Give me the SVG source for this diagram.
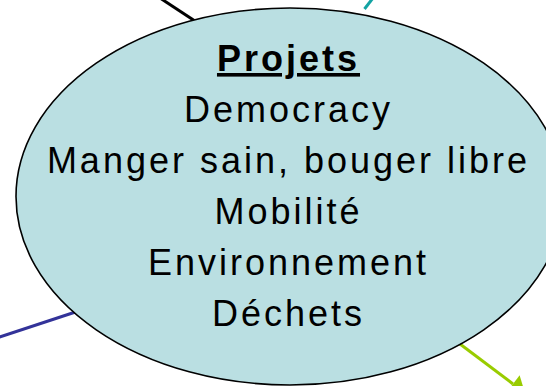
<svg xmlns="http://www.w3.org/2000/svg" width="546" height="386" viewBox="0 0 546 386">
  <style>
    .lbl { font-family: "Liberation Sans", Arial, sans-serif; font-size: 36px; letter-spacing: 3px; fill: #000; text-anchor: middle; }
    .title { font-weight: bold; text-decoration: underline; }
    .conn { fill: none; stroke-width: 3; stroke-linecap: butt; }
  </style>
  <defs>
    <marker id="arrowGreen" markerUnits="userSpaceOnUse" markerWidth="16" markerHeight="22" refX="0" refY="11" orient="auto" overflow="visible">
      <path d="M0,0 L15,11 L0,22 z" fill="#99CC00"/>
    </marker>
  </defs>
  <g id="connectors">
    <line class="conn" x1="160" y1="-2" x2="198" y2="23" stroke="#000000"/>
    <line class="conn" x1="373" y1="-2" x2="364.5" y2="9" stroke="#13A3A3"/>
    <line class="conn" x1="-2" y1="337.5" x2="77" y2="311.5" stroke="#333399"/>
    <line class="conn" x1="456" y1="341" x2="513" y2="384" stroke="#99CC00" stroke-width="4" marker-end="url(#arrowGreen)"/>
  </g>
  <g id="projets">
    <ellipse cx="290" cy="196.5" rx="274" ry="188.5" fill="#BADFE2" stroke="#000" stroke-width="1.6"/>
    <text class="lbl title" x="288.5" y="71">Projets</text>
    <text class="lbl" x="288.5" y="122">Democracy</text>
    <text class="lbl" x="288.5" y="173">Manger sain, bouger libre</text>
    <text class="lbl" x="288.5" y="224">Mobilité</text>
    <text class="lbl" x="288.5" y="275">Environnement</text>
    <text class="lbl" x="288.5" y="326">Déchets</text>
  </g>
</svg>
